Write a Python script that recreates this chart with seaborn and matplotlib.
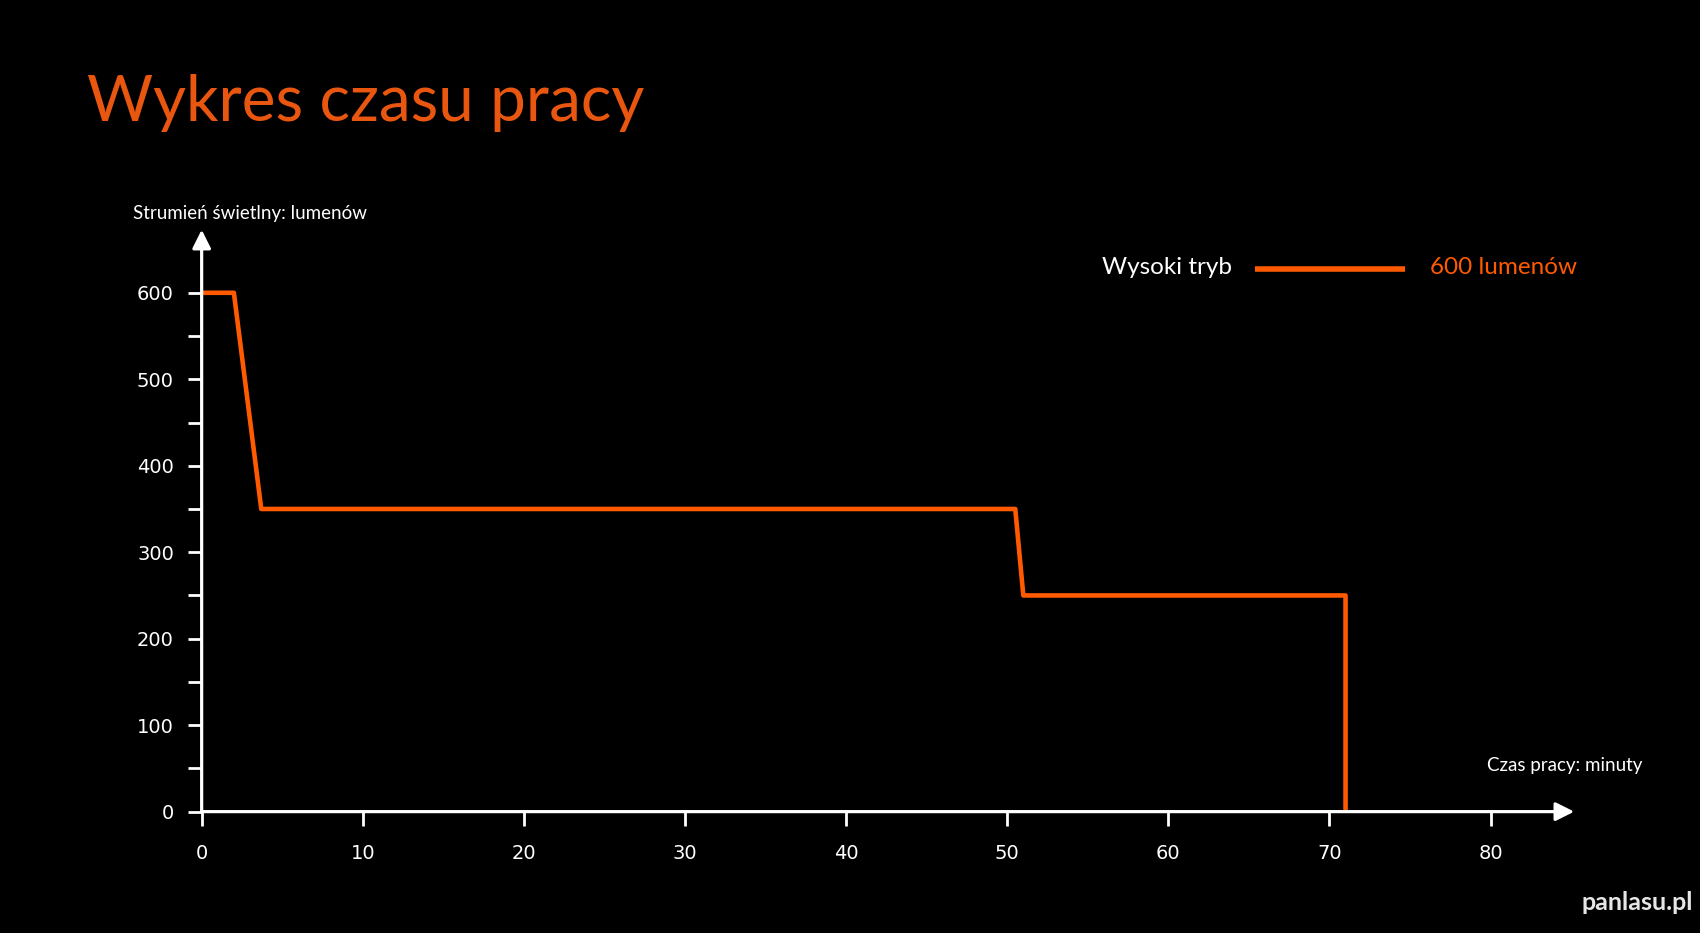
import seaborn as sns
import matplotlib.pyplot as plt
from matplotlib.lines import Line2D

# ---- data ----
czas_min = [0, 2.0, 3.7, 50.5, 51.0, 71.0, 71.0]
lumeny = [600, 600, 350, 350, 250, 250, 0]
x_ticks = [0, 10, 20, 30, 40, 50, 60, 70, 80]
y_ticks = [0, 100, 200, 300, 400, 500, 600]
y_minor = [50, 150, 250, 350, 450, 550]

ORANGE = '#ff5a00'
TITLE_ORANGE = '#e8560f'

sns.set_style('dark', {'axes.facecolor': 'black', 'figure.facecolor': 'black'})
plt.rcParams['font.family'] = ['Lato', 'DejaVu Sans']

fig = plt.figure(figsize=(17, 9.33), dpi=100)
W, H = 1568, 861  # layout measured on a 1568x861 view


def fx(x):
    return x / W


def fy(y):
    return 1 - y / H


# axes: y axis at x=186, x axis at y=749, arrow tips at x=1452 / y=212
ax = fig.add_axes([fx(186), fy(749), fx(1452) - fx(186), fy(212) - fy(749)])
ax.set_facecolor('black')

sns.lineplot(x=czas_min, y=lumeny, estimator=None, sort=False,
             color=ORANGE, linewidth=3.3, ax=ax)

ax.set_xlim(0, (1452 - 186) / 14.86)
ax.set_ylim(0, (749 - 212) / 0.798)
ax.grid(False)
for s in ax.spines.values():
    s.set_visible(False)

# axis arrows
arrow = dict(arrowstyle='-|>', color='white', lw=2.3, mutation_scale=28,
             shrinkA=0, shrinkB=0)
ax.annotate('', xy=(0, 1), xytext=(0, 0), xycoords='axes fraction', arrowprops=arrow)
ax.annotate('', xy=(1, 0), xytext=(0, 0), xycoords='axes fraction', arrowprops=arrow)

ax.set_xticks(x_ticks)
ax.set_yticks(y_ticks)
ax.set_yticks(y_minor, minor=True)
ax.tick_params(axis='both', which='both', colors='white', width=2, length=10,
               direction='out', labelsize=14, pad=10, bottom=True, left=True)
ax.tick_params(axis='x', pad=13)
for lab in ax.get_xticklabels() + ax.get_yticklabels():
    lab.set_family('DejaVu Sans')
    lab.set_color('white')
ax.set_xlabel('')
ax.set_ylabel('')

# texts
fig.text(fx(80), fy(95), 'Wykres czasu pracy', color=TITLE_ORANGE,
         fontsize=46, va='center', ha='left')
fig.text(fx(123), fy(197), 'Strumień świetlny: lumenów', color='white',
         fontsize=13.5, va='center', ha='left')
fig.text(fx(1515), fy(706), 'Czas pracy: minuty', color='white',
         fontsize=13.5, va='center', ha='right')

# legend
fig.text(fx(1136), fy(247), 'Wysoki tryb', color='white', fontsize=17.5,
         va='center', ha='right')
fig.add_artist(Line2D([fx(1158), fx(1296)], [fy(248), fy(248)],
                      transform=fig.transFigure, color=ORANGE, linewidth=4,
                      solid_capstyle='butt'))
fig.text(fx(1319), fy(247), '600 lumenów', color=ORANGE, fontsize=17.5,
         va='center', ha='left')

# watermark
fig.text(fx(1562), fy(833), 'panlasu.pl', color='#e6e6e6', fontsize=18,
         fontweight='bold', va='center', ha='right')

fig.savefig('out.png', dpi=100, facecolor='black')
